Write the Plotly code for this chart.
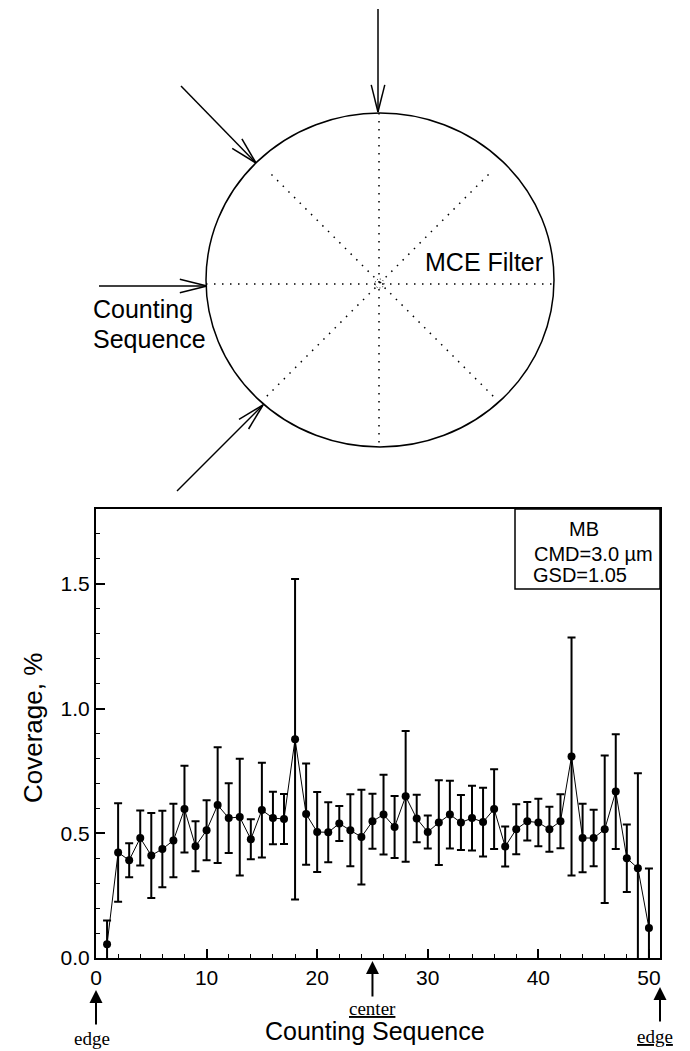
import math
import plotly.graph_objects as go

W, H = 690, 1051

# ---------------- data ----------------
seq = list(range(1, 51))
coverage = [0.055, 0.423, 0.392, 0.481, 0.411, 0.437, 0.471, 0.597, 0.448, 0.512,
            0.613, 0.561, 0.565, 0.476, 0.593, 0.561, 0.557, 0.877, 0.577, 0.505,
            0.504, 0.539, 0.512, 0.485, 0.548, 0.575, 0.525, 0.648, 0.559, 0.505,
            0.543, 0.575, 0.543, 0.561, 0.545, 0.597, 0.447, 0.516, 0.548, 0.543,
            0.516, 0.548, 0.808, 0.481, 0.481, 0.516, 0.667, 0.400, 0.360, 0.120]
coverage_err = [0.095, 0.197, 0.068, 0.110, 0.170, 0.153, 0.147, 0.174, 0.100, 0.120,
                0.232, 0.140, 0.234, 0.080, 0.190, 0.105, 0.100, 0.642, 0.203, 0.160,
                0.120, 0.070, 0.144, 0.190, 0.110, 0.160, 0.124, 0.262, 0.095, 0.066,
                0.170, 0.136, 0.110, 0.130, 0.138, 0.160, 0.080, 0.100, 0.077, 0.095,
                0.090, 0.108, 0.477, 0.137, 0.113, 0.296, 0.230, 0.135, 0.381, 0.239]
x_ticks = [0, 10, 20, 30, 40, 50]
y_ticks = [0.0, 0.5, 1.0, 1.5]
legend_lines = ["MB", "CMD=3.0 \u00b5m", "GSD=1.05"]
marker_positions = {"edge_left": 0, "center": 25, "edge_right": 51}

SANS = "Liberation Sans, Arial, sans-serif"
SERIF = "Liberation Serif, Times New Roman, serif"


def PX(x):
    return x / W


def PY(y):
    return 1 - y / H


# plot area in pixels
L, R, T, B = 96, 660, 509, 958

fig = go.Figure()
fig.add_trace(go.Scatter(
    x=seq, y=coverage, mode="lines+markers",
    line=dict(color="black", width=1),
    marker=dict(color="black", size=8, symbol="circle"),
    error_y=dict(type="data", array=coverage_err, visible=True,
                 color="black", thickness=2, width=4),
    showlegend=False, cliponaxis=True,
))

shapes = []
annotations = []

# ---------------- legend box ----------------
shapes.append(dict(type="rect", xref="paper", yref="paper",
                   x0=PX(515), x1=PX(660), y0=PY(589), y1=PY(509),
                   line=dict(color="black", width=1.5)))
annotations.append(dict(text=legend_lines[0], xref="paper", yref="paper",
                        x=PX(584), y=PY(529), xanchor="center", yanchor="middle",
                        showarrow=False, font=dict(family=SANS, size=20, color="black")))
annotations.append(dict(text=legend_lines[1], xref="paper", yref="paper",
                        x=PX(532), y=PY(554), xanchor="left", yanchor="middle",
                        showarrow=False, font=dict(family=SANS, size=20, color="black")))
annotations.append(dict(text=legend_lines[2], xref="paper", yref="paper",
                        x=PX(531), y=PY(575), xanchor="left", yanchor="middle",
                        showarrow=False, font=dict(family=SANS, size=20, color="black")))

# ---------------- axis titles ----------------
annotations.append(dict(text="Coverage, %", xref="paper", yref="paper",
                        x=PX(33), y=PY(728), textangle=-90, xanchor="center", yanchor="middle",
                        showarrow=False, font=dict(family=SANS, size=26, color="black")))
annotations.append(dict(text="Counting Sequence", xref="paper", yref="paper",
                        x=PX(375), y=PY(1031), xanchor="center", yanchor="middle",
                        showarrow=False, font=dict(family=SANS, size=25, color="black")))

# ---------------- edge / center markers below the axis ----------------
annotations.append(dict(text="", x=marker_positions["center"], xref="x", y=PY(961), yref="paper",
                        ax=0, ay=37, showarrow=True, arrowhead=2, arrowsize=1.3,
                        arrowwidth=2, arrowcolor="black"))
annotations.append(dict(text="<u>center</u>", x=marker_positions["center"], xref="x",
                        y=PY(1008), yref="paper", xanchor="center", yanchor="middle",
                        showarrow=False, font=dict(family=SERIF, size=19, color="black")))
annotations.append(dict(text="", x=marker_positions["edge_left"], xref="x", y=PY(990), yref="paper",
                        ax=0, ay=36, showarrow=True, arrowhead=2, arrowsize=1.3,
                        arrowwidth=2, arrowcolor="black"))
annotations.append(dict(text="edge", xref="paper", y=PY(1038), yref="paper",
                        x=PX(92), xanchor="center", yanchor="middle",
                        showarrow=False, font=dict(family=SERIF, size=19, color="black")))
annotations.append(dict(text="", x=marker_positions["edge_right"], xref="x", y=PY(987), yref="paper",
                        ax=0, ay=36, showarrow=True, arrowhead=2, arrowsize=1.3,
                        arrowwidth=2, arrowcolor="black"))
annotations.append(dict(text="<u>edge</u>", xref="paper", y=PY(1036), yref="paper",
                        x=PX(655), xanchor="center", yanchor="middle",
                        showarrow=False, font=dict(family=SERIF, size=19, color="black")))

# ---------------- filter diagram ----------------
cx, cy, rx, ry = 380, 280, 174, 167
shapes.append(dict(type="circle", xref="paper", yref="paper",
                   x0=PX(cx - rx), x1=PX(cx + rx), y0=PY(cy + ry), y1=PY(cy - ry),
                   line=dict(color="black", width=1.5)))
dot = "1.5px,6.5px"
# spokes
shapes.append(dict(type="line", xref="paper", yref="paper",
                   x0=PX(cx - rx), x1=PX(cx + rx), y0=PY(cy + 4), y1=PY(cy + 4),
                   line=dict(color="black", width=1.5, dash=dot)))
shapes.append(dict(type="line", xref="paper", yref="paper",
                   x0=PX(cx - 1), x1=PX(cx - 1), y0=PY(cy - ry), y1=PY(cy + ry),
                   line=dict(color="black", width=1.5, dash=dot)))
for ang in (45, 135):
    a = math.radians(ang)
    d = 160
    dx, dy = d * math.cos(a), d * math.sin(a)
    shapes.append(dict(type="line", xref="paper", yref="paper",
                       x0=PX(cx - dx), x1=PX(cx + dx), y0=PY(cy + 3 + dy), y1=PY(cy + 3 - dy),
                       line=dict(color="black", width=1.5, dash=dot)))
shapes.append(dict(type="circle", xref="paper", yref="paper",
                   x0=PX(cx - 5), x1=PX(cx + 4), y0=PY(cy + 8), y1=PY(cy - 1),
                   line=dict(color="black", width=1, dash="1px,2px")))

# arrows pointing at the filter: (tip, tail)
diagram_arrows = [((378, 112), (378, 9)),
                  ((256, 163), (181, 86)),
                  ((207, 286), (99, 286)),
                  ((263, 405), (177, 491))]
for (tx, ty), (sx, sy) in diagram_arrows:
    shapes.append(dict(type="line", xref="paper", yref="paper",
                       x0=PX(sx), y0=PY(sy), x1=PX(tx), y1=PY(ty),
                       line=dict(color="black", width=1.5)))
    ang = math.atan2(sy - ty, sx - tx)
    for s in (-1, 1):
        wa = ang + s * math.radians(14)
        wx, wy = tx + 28 * math.cos(wa), ty + 28 * math.sin(wa)
        shapes.append(dict(type="line", xref="paper", yref="paper",
                           x0=PX(tx), y0=PY(ty), x1=PX(wx), y1=PY(wy),
                           line=dict(color="black", width=1.5)))

annotations.append(dict(text="MCE Filter", xref="paper", yref="paper",
                        x=PX(423), y=PY(262), xanchor="left", yanchor="middle",
                        showarrow=False, font=dict(family=SANS, size=25, color="black")))
annotations.append(dict(text="Counting", xref="paper", yref="paper",
                        x=PX(91), y=PY(309), xanchor="left", yanchor="middle",
                        showarrow=False, font=dict(family=SANS, size=25, color="black")))
annotations.append(dict(text="Sequence", xref="paper", yref="paper",
                        x=PX(91), y=PY(339), xanchor="left", yanchor="middle",
                        showarrow=False, font=dict(family=SANS, size=25, color="black")))

axis_common = dict(showgrid=False, zeroline=False, showline=True, linecolor="black",
                   linewidth=2, mirror=True, ticks="inside", tickcolor="black",
                   tickwidth=1.5, ticklen=9, automargin=False,
                   tickfont=dict(family=SANS, size=21, color="black"))

fig.update_layout(
    width=W, height=H,
    margin=dict(l=0, r=0, t=0, b=0),
    paper_bgcolor="white", plot_bgcolor="white",
    xaxis=dict(domain=[PX(L), PX(R)], range=[0, 51], tickvals=x_ticks,
               minor=dict(dtick=2, tick0=0, ticks="inside", ticklen=4, tickwidth=1.2,
                          tickcolor="black", showgrid=False),
               **axis_common),
    yaxis=dict(domain=[PY(B), PY(T)], range=[0, 1.8], tickvals=y_ticks, tickformat=".1f",
               minor=dict(dtick=0.1, tick0=0, ticks="inside", ticklen=4, tickwidth=1.2,
                          tickcolor="black", showgrid=False),
               **axis_common),
    shapes=shapes,
    annotations=annotations,
    showlegend=False,
)

fig.write_html("out.html", config={"displayModeBar": False},
               post_script="document.body.style.margin='0px';document.body.style.overflow='hidden';")
